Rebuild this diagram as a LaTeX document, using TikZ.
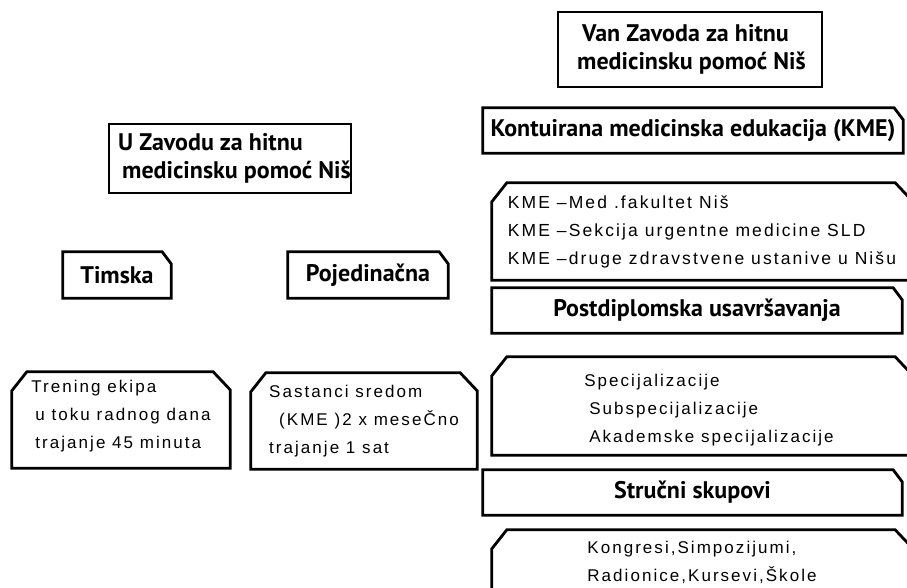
\documentclass[tikz,border=0pt]{standalone}
\usepackage{fontspec}
\newfontfamily\headfont{PT Sans}
\newfontfamily\listfont[LetterSpace=12]{Liberation Sans}

\begin{document}
\begin{tikzpicture}[
x=1pt, y=-1pt,
boxline/.style={draw=black, line width=2.8pt},
plainbox/.style={
rectangle,
boxline,
inner sep=0pt,
align=left
},
% outline with the top corners cut: left dx, left dy, right dx, right dy
cutframe/.style n args={4}{
rectangle,
inner sep=0pt,
align=left,
append after command={\pgfextra{
\draw[boxline] (\tikzlastnode.south west)
-- ([yshift=-#2]\tikzlastnode.north west)
-- ([xshift=#1]\tikzlastnode.north west)
-- ([xshift=-#3]\tikzlastnode.north east)
-- ([yshift=-#4]\tikzlastnode.north east)
-- (\tikzlastnode.south east) -- cycle;
}}
},
cutright/.style={cutframe={0pt}{0pt}{9pt}{12pt}},
cutboth/.style={cutframe={15pt}{19pt}{17pt}{18pt}},
headtext/.style={font=\headfont\bfseries\fontsize{24}{28}\selectfont},
listtext/.style={font=\listfont\fontsize{17}{28}\selectfont}
]
\useasboundingbox (0,0) rectangle (907,587);

% left column
\node[plainbox, headtext, minimum width=242pt, minimum height=69pt] (uzavodu) at (230,158.5)
{\hspace*{9pt}U Zavodu za hitnu\\\hspace*{13pt}medicinsku pomoć Niš};

\node[cutright, headtext, minimum width=108pt, minimum height=46pt, align=center] (timska) at (117,275)
{Timska};

\node[cutright, headtext, minimum width=160pt, minimum height=46pt, align=center] (pojedinacna) at (368,275)
{Pojedinačna};

\node[cutboth, listtext, minimum width=218pt, minimum height=96pt] (trening) at (121,420)
{Trening ekipa\\\hspace*{4pt}u toku radnog dana\\\hspace*{4pt}trajanje 45 minuta\rule[-11pt]{0pt}{0pt}};

\node[cutboth, listtext, minimum width=226pt, minimum height=96pt] (sastanci) at (364,421)
{Sastanci sredom\\\hspace*{10pt}(KME )2 x meseČno\\trajanje 1 sat};

% right column
\node[plainbox, headtext, minimum width=264pt, minimum height=75pt] (vanzavoda) at (690,49.5)
{\hspace*{8pt}Van Zavoda za hitnu\\\hspace*{3pt}medicinsku pomoć Niš};

\node[cutright, headtext, minimum width=420pt, minimum height=45pt] (kme) at (693,130.5)
{Kontuirana medicinska edukacija (KME)};

\node[cutboth, listtext, font=\listfont\fontsize{17.5}{28}\selectfont, minimum width=420pt, minimum height=97pt] (kmelist) at (702,231.5)
{KME –Med .fakultet  Niš\\KME  –Sekcija urgentne medicine SLD\\KME –druge zdravstvene  ustanive u Nišu};

\node[cutright, headtext, minimum width=410pt, minimum height=45pt, align=center] (postdipl) at (697,310.5)
{Postdiplomska usavršavanja};

\node[cutboth, listtext, minimum width=420pt, minimum height=98pt] (spec) at (702,406)
{\rule{0pt}{20pt}\hspace*{14pt}Specijalizacije\\\hspace*{19pt}Subspecijalizacije\\\hspace*{19pt}Akademske specijalizacije};

\node[cutright, headtext, minimum width=419pt, minimum height=45pt, align=center] (strucni) at (692.5,492.5)
{Stručni skupovi};

\node[cutboth, listtext, minimum width=420pt, minimum height=64pt] (kongresi) at (702,562)
{Kongresi,Simpozijumi,\\Radionice,Kursevi,Škole};

\end{tikzpicture}
\end{document}
